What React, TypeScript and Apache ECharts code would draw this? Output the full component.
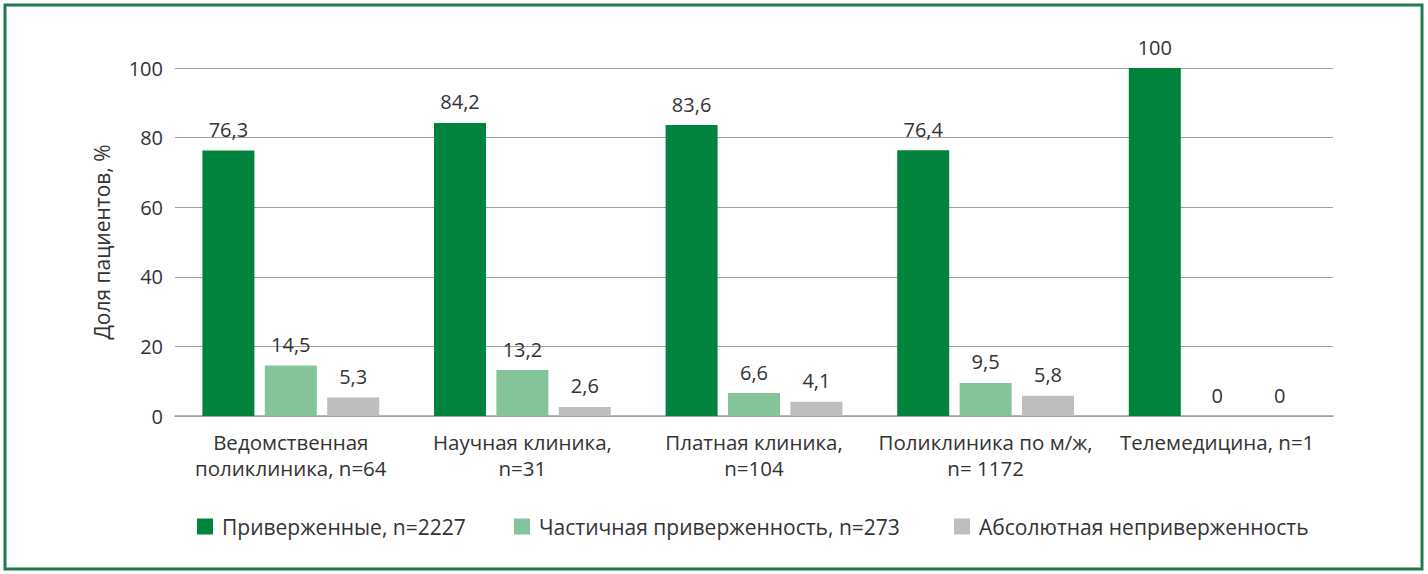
import React, { useEffect, useRef } from "react";
import * as echarts from "echarts";

const categories = [
  "Ведомственная\nполиклиника, n=64",
  "Научная клиника,\nn=31",
  "Платная клиника,\nn=104",
  "Поликлиника по м/ж,\nn= 1172",
  "Телемедицина, n=1",
];
const adherent = [76.3, 84.2, 83.6, 76.4, 100];
const partial = [14.5, 13.2, 6.6, 9.5, 0];
const absolute = [5.3, 2.6, 4.1, 5.8, 0];
const seriesNames = [
  "Приверженные, n=2227",
  "Частичная приверженность, n=273",
  "Абсолютная неприверженность",
];
const yTicks = [0, 20, 40, 60, 80, 100];

const FONT = "'Open Sans', 'Noto Sans', sans-serif";
const TEXT = "#333333";

export default function App() {
  const ref = useRef<HTMLDivElement>(null);
  useEffect(() => {
    document.body.style.margin = "0";
    if (!ref.current) return;
    const chart = echarts.init(ref.current, null, { renderer: "svg" });
    const label = {
      show: true,
      position: "top" as const,
      distance: 11,
      fontSize: 20,
      color: TEXT,
      fontFamily: FONT,
      formatter: (p: any) => String(p.value).replace(".", ","),
    };
    const colors = ["#00843D", "#85C49B", "#BEBEBE"];
    const data = [adherent, partial, absolute];
    const legendLefts = [192, 509, 949];
    chart.setOption({
      animation: false,
      textStyle: { fontFamily: FONT },
      graphic: [
        {
          type: "rect",
          shape: { x: 5, y: 5, width: 1417, height: 564 },
          style: { fill: "none", stroke: "#1E7B4B", lineWidth: 3 },
          silent: true,
        },
      ],
      grid: { left: 175, right: 95, top: 68, bottom: 158, containLabel: false },
      legend: seriesNames.map((n, i) => ({
        left: legendLefts[i],
        top: 511,
        itemWidth: 16,
        itemHeight: 16,
        icon: "rect",
        textStyle: {
          fontSize: 21,
          color: TEXT,
          fontFamily: FONT,
          padding: [0, 0, 0, 4],
        },
        data: [n],
      })),
      xAxis: {
        type: "category",
        data: categories,
        axisTick: { show: false },
        axisLine: { show: true, lineStyle: { color: "#A0A0A0", width: 1.5 } },
        axisLabel: {
          fontSize: 20.5,
          color: TEXT,
          fontFamily: FONT,
          lineHeight: 26,
          margin: 13,
          interval: 0,
        },
      },
      yAxis: {
        type: "value",
        min: yTicks[0],
        max: yTicks[yTicks.length - 1],
        interval: 20,
        name: "Доля пациентов, %",
        nameLocation: "middle",
        nameGap: 63,
        nameTextStyle: { fontSize: 21, color: TEXT, fontFamily: FONT },
        axisLabel: { fontSize: 20, color: TEXT, fontFamily: FONT, margin: 12 },
        axisLine: { show: false },
        axisTick: { show: false },
        splitLine: { lineStyle: { color: "#A0A0A0", width: 1.2 } },
      },
      series: data.map((d, i) => ({
        name: seriesNames[i],
        type: "bar",
        data: d,
        barWidth: 52,
        barGap: "20%",
        itemStyle: { color: colors[i] },
        label,
      })),
    });
    return () => chart.dispose();
  }, []);
  return <div ref={ref} style={{ width: 1428, height: 574, background: "#fff" }} />;
}
